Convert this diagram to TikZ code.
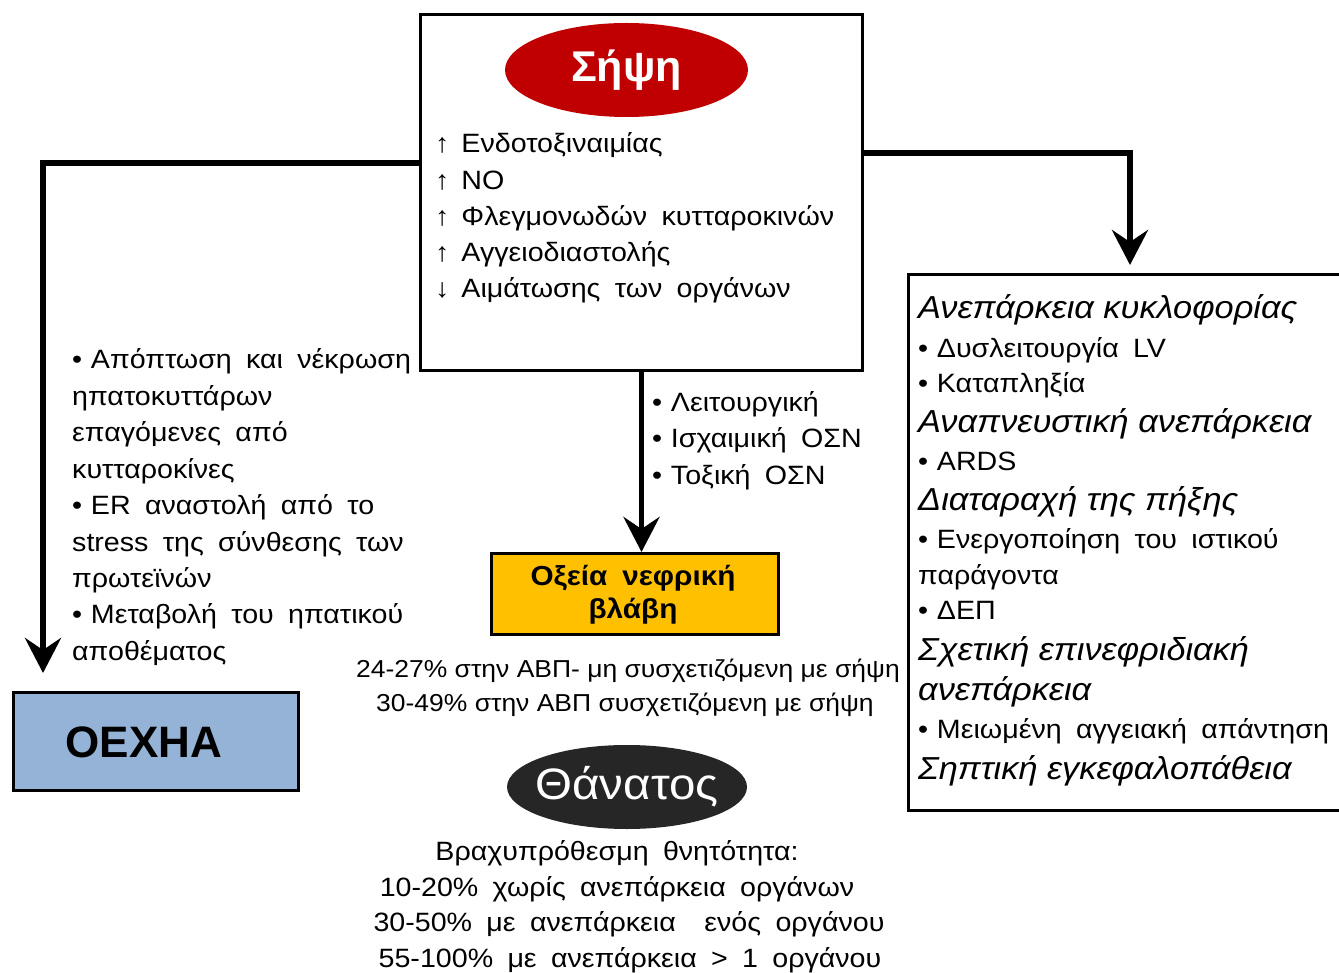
\documentclass[tikz,border=0pt]{standalone}
\usepackage{fontspec}
\setmainfont{Liberation Sans}[FakeStretch=1.08, WordSpace=1.8]
\newfontfamily\pctfont{Liberation Sans}[FakeStretch=1.08]
\newfontfamily\plainfont{Liberation Sans}
\usetikzlibrary{arrows.meta,shapes.geometric,calc}
\definecolor{sepsisred}{HTML}{C00000}
\definecolor{akiyellow}{HTML}{FFC000}
\definecolor{liverblue}{HTML}{95B3D7}
\definecolor{deathgray}{HTML}{262626}
\newcommand\bu{•\hspace{0.33em}}
\newcommand\up{↑\hspace{0.45em}}
\newcommand\dn{↓\hspace{0.45em}}
\tikzset{
  box/.style={draw, line width=3pt, rectangle, anchor=north west, inner sep=0pt},
  conn/.style={line width=5.5pt, -{Stealth[length=35pt,width=36pt,inset=12pt]}},
  txt/.style={inner sep=0pt, anchor=base west, font=\fontsize{26.5}{30}\selectfont},
  ctxt/.style={inner sep=0pt, anchor=base, font=\fontsize{26.5}{30}\selectfont},
  ptxt/.style={inner sep=0pt, anchor=base, font=\pctfont\fontsize{24.5}{30}\selectfont},
  hdr/.style={inner sep=0pt, anchor=base west, font=\pctfont\fontsize{31.8}{36}\selectfont\itshape},
}
\begin{document}
\begin{tikzpicture}[x=1pt,y=-1pt]
\useasboundingbox (0,0) rectangle (1339,973);
\clip (0,0) rectangle (1339,973);
% boxes
\node[box, minimum width=442pt, minimum height=356pt] (top) at (419,13) {};
\node[box, minimum width=440pt, minimum height=536pt] (rbox) at (907,273) {};
\node[box, fill=akiyellow, minimum width=287pt, minimum height=81pt] (aki) at (490,552) {};
\node[box, fill=liverblue, minimum width=285pt, minimum height=98pt] (oexha) at (12,691) {};
% ellipses
\node[ellipse, fill=sepsisred, inner sep=0pt, minimum width=243pt, minimum height=94pt] (sepsis) at (626.5,70) {};
\node[inner sep=0pt, text=white, font=\plainfont\fontsize{43}{48}\selectfont\bfseries] (sepsist) at (sepsis.center) {Σήψη};
\node[ellipse, fill=deathgray, inner sep=0pt, minimum width=240pt, minimum height=84pt] (death) at (627,787) {};
\node[inner sep=0pt, text=white, font=\fontsize{44}{48}\selectfont] (deatht) at (death.center) {Θάνατος};
% box labels
\node[inner sep=0pt, anchor=base, font=\fontsize{27.5}{33}\selectfont\bfseries] (aki1) at (633,585) {Οξεία νεφρική};
\node[inner sep=0pt, anchor=base, font=\fontsize{27.5}{33}\selectfont\bfseries] (aki2) at (633,618) {βλάβη};
\node[inner sep=0pt, anchor=base, font=\plainfont\fontsize{44}{50}\selectfont\bfseries] (oexhat) at (144,757) {ΟΕΧΗΑ};
% top box text
\foreach \t [count=\i] in {\up Ενδοτοξιναιμίας, \up NO, \up Φλεγμονωδών κυτταροκινών, \up Αγγειοδιαστολής, \dn Αιμάτωσης των οργάνων}
  \node[txt] (topl-\i) at (435,{153+36.2*(\i-1)}) {\t};
% left text
\foreach \t [count=\i] in {\bu Απόπτωση και νέκρωση, ηπατοκυττάρων, επαγόμενες από, κυτταροκίνες, \bu ER αναστολή από το, stress της σύνθεσης των, πρωτεϊνών, \bu Μεταβολή του ηπατικού, αποθέματος}
  \node[txt] (left-\i) at (72,{369+36.4*(\i-1)}) {\t};
% middle text
\foreach \t [count=\i] in {\bu Λειτουργική, \bu Ισχαιμική ΟΣΝ, \bu Τοξική ΟΣΝ}
  \node[txt] (mid-\i) at (652,{412+36*(\i-1)}) {\t};
% below AKI
\node[ptxt] (pct1) at (628,677) {24-27\% στην ΑΒΠ- μη συσχετιζόμενη με σήψη};
\node[ptxt] (pct2) at (625,711) {30-49\% στην ΑΒΠ συσχετιζόμενη με σήψη};
% mortality
\node[ctxt] (mort1) at (617,860) {Βραχυπρόθεσμη θνητότητα:};
\node[ctxt] (mort2) at (617,896) {10-20\% χωρίς ανεπάρκεια οργάνων};
\node[ctxt] (mort3) at (629,931) {30-50\% με ανεπάρκεια\ \ ενός οργάνου};
\node[ctxt] (mort4) at (630,967) {55-100\% με ανεπάρκεια > 1 οργάνου};
% right box text
\node[hdr] (r1) at (918,319) {Ανεπάρκεια κυκλοφορίας};
\node[txt] (r2) at (918,358) {\bu Δυσλειτουργία LV};
\node[txt] (r3) at (918,393) {\bu Καταπληξία};
\node[hdr] (r4) at (918,432) {Αναπνευστική ανεπάρκεια};
\node[txt] (r5) at (918,471) {\bu ARDS};
\node[hdr] (r6) at (918,510) {Διαταραχή της πήξης};
\node[txt] (r7) at (918,548) {\bu Ενεργοποίηση του ιστικού};
\node[txt] (r8) at (918,584) {παράγοντα};
\node[txt] (r9) at (918,619) {\bu ΔΕΠ};
\node[hdr] (r10) at (918,660) {Σχετική επινεφριδιακή};
\node[hdr] (r11) at (918,700) {ανεπάρκεια};
\node[txt] (r12) at (918,738) {\bu Μειωμένη αγγειακή απάντηση};
\node[hdr] (r13) at (918,779) {Σηπτική εγκεφαλοπάθεια};
% connectors
\draw[conn] (top.west |- 0,163) -| ($(oexha.north west)+(31,-18)$);
\draw[conn] (top.east |- 0,153) -| ($(rbox.north west)+(223,-8)$);
\draw[conn] (top.south) -- (top.south |- aki.north);
\end{tikzpicture}
\end{document}
